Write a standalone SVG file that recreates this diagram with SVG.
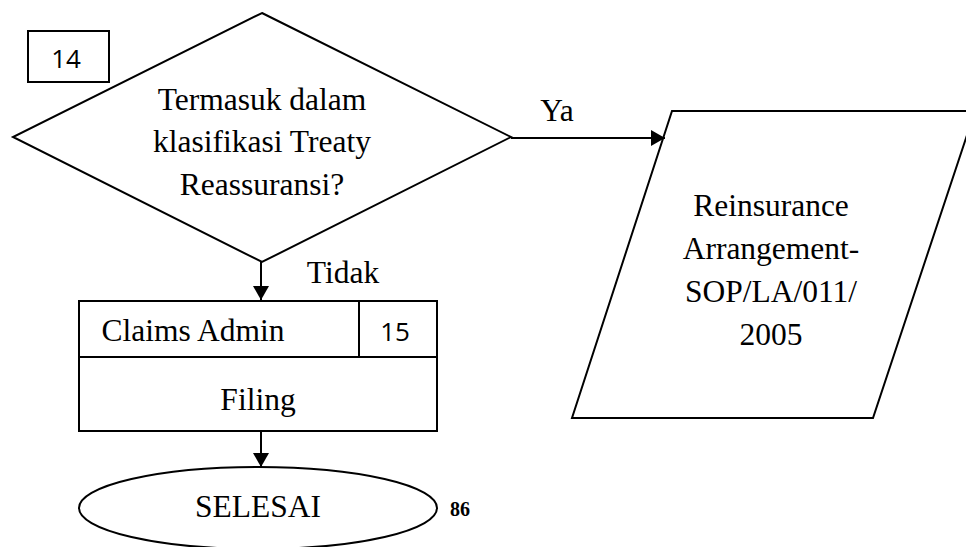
<svg xmlns="http://www.w3.org/2000/svg" width="966" height="547" viewBox="0 0 966 547">
<style>
.s{fill:#fff;stroke:#000;stroke-width:2}
.t{font-family:"Liberation Serif","Times New Roman",serif;font-size:31.5px;fill:#000;text-anchor:middle}
.n{font-family:"Open Sans","Liberation Sans",sans-serif;font-size:26px;fill:#000;text-anchor:middle}
.c{fill:none;stroke:#000;stroke-width:2}
</style>
<defs>
<marker id="ah" markerWidth="14" markerHeight="16" refX="14" refY="8" orient="auto" markerUnits="userSpaceOnUse">
<path d="M0,0 L14,8 L0,16 Z" fill="#000"/>
</marker>
</defs>
<rect width="966" height="547" fill="#fff"/>
<g id="decision14">
<polygon class="s" points="262,13 511,137 262,262 13,137"/>
<text class="t" x="262" y="110">Termasuk dalam</text>
<text class="t" x="262" y="152">klasifikasi Treaty</text>
<text class="t" x="262" y="195">Reassuransi?</text>
</g>
<g id="label14">
<rect class="s" x="28" y="31" width="81" height="51"/>
<text class="n" x="66" y="68">14</text>
</g>
<g id="reinsurance">
<polygon class="s" points="672,111 975,111 873,418 572,418"/>
<text class="t" x="771" y="216">Reinsurance</text>
<text class="t" x="771" y="259">Arrangement-</text>
<text class="t" x="771" y="302">SOP/LA/011/</text>
<text class="t" x="771" y="345">2005</text>
</g>
<g id="claims15">
<rect class="s" x="79" y="301" width="358" height="130"/>
<line class="c" x1="79" y1="357" x2="437" y2="357"/>
<line class="c" x1="359" y1="301" x2="359" y2="357"/>
<text class="t" x="193" y="341">Claims Admin</text>
<text class="n" x="395" y="341">15</text>
<text class="t" x="258" y="410">Filing</text>
</g>
<g id="selesai">
<ellipse class="s" cx="258" cy="508" rx="179" ry="41"/>
<text class="t" x="258" y="517">SELESAI</text>
<text x="460" y="516" font-family="Liberation Serif,serif" font-weight="bold" font-size="20" text-anchor="middle">86</text>
</g>
<g id="connectors">
<line class="c" x1="511" y1="138" x2="665" y2="138" marker-end="url(#ah)"/>
<text class="t" x="557" y="121">Ya</text>
<line class="c" x1="261" y1="262" x2="261" y2="300" marker-end="url(#ah)"/>
<text class="t" x="343" y="283">Tidak</text>
<line class="c" x1="261" y1="431" x2="261" y2="467" marker-end="url(#ah)"/>
</g>
</svg>
